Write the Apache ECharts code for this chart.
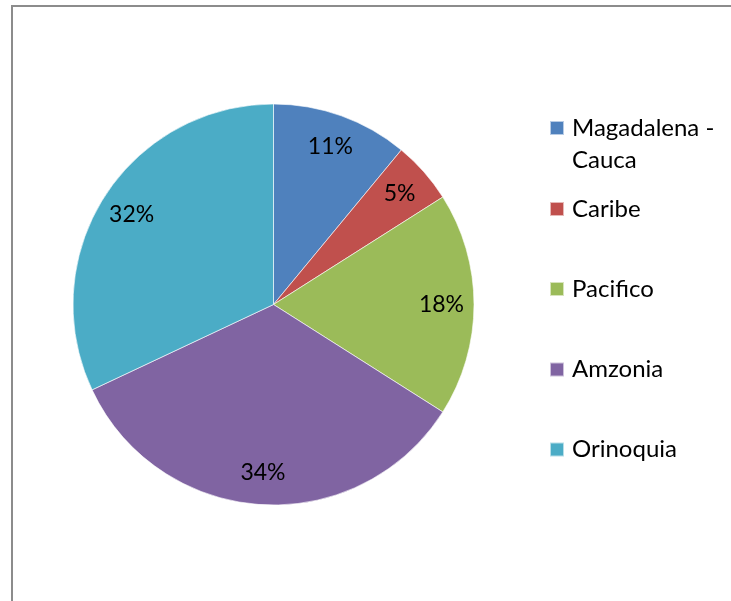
<!DOCTYPE html>
<html>
<head>
<meta charset="utf-8">
<script src="https://cdn.jsdelivr.net/npm/echarts@6/dist/echarts.min.js"></script>
<style>
  html, body { margin: 0; padding: 0; background: #fff; }
  #chart { width: 731px; height: 601px; }
</style>
</head>
<body>
<div id="chart"></div>
<script>
// regions and their share (percent)
var regions = ['Magadalena - Cauca', 'Caribe', 'Pacifico', 'Amzonia', 'Orinoquia']
var shares = [11, 5, 18, 34, 32]
var colors = ['#4F81BD', '#C0504D', '#9BBB59', '#8064A2', '#4BACC6']

var font = 'Lato, "Open Sans", sans-serif'
var pieData = regions.map(function (name, i) {
  return { name: name, value: shares[i], itemStyle: { color: colors[i] } }
})

// icon centres of the legend rows
var legendCenters = [128, 209, 289, 369.5, 449.5]
var legends = regions.map(function (name, i) {
  var wrap = name.indexOf(' - ') >= 0
  return {
    data: [name],
    orient: 'vertical',
    left: 549,
    top: legendCenters[i] - (wrap ? 48 : 16),
    padding: 0,
    itemWidth: 14,
    itemHeight: 14,
    icon: 'rect',
    selectedMode: false,
    // long name wraps after the dash; blank first line keeps the first row beside the icon
    formatter: function (n) { return wrap ? '\n' + n.replace(' - ', ' -\n') : n },
    textStyle: {
      fontFamily: font,
      fontSize: 24,
      color: '#000',
      lineHeight: 32,
      padding: [0, 0, 0, 3]
    }
  }
})

var chart = echarts.init(document.getElementById('chart'))
chart.setOption({
  animation: false,
  color: colors,
  legend: legends,
  // chart area frame, only top and left edges are inside the crop
  graphic: [{
    type: 'polyline',
    shape: { points: [[12, 700], [12, 6], [900, 6]] },
    style: { fill: 'none', stroke: '#8c8c8c', lineWidth: 2 },
    z: 0
  }],
  series: [{
    type: 'pie',
    center: [273.5, 304.5],
    radius: 200.5,
    startAngle: 90,
    clockwise: true,
    label: { show: false },
    labelLine: { show: false },
    itemStyle: { borderColor: 'rgba(255,255,255,0.6)', borderWidth: 1 },
    emphasis: { disabled: true },
    data: pieData
  }, {
    // transparent ring only used to place the percent labels further out
    type: 'pie',
    center: [273.5, 304.5],
    radius: [130, 200],
    startAngle: 90,
    clockwise: true,
    silent: true,
    itemStyle: { color: 'rgba(0,0,0,0)' },
    label: {
      show: true,
      position: 'inside',
      formatter: '{c}%',
      fontFamily: font,
      fontSize: 23,
      color: '#000'
    },
    labelLine: { show: false },
    emphasis: { disabled: true },
    data: regions.map(function (name, i) { return { name: name, value: shares[i] } })
  }]
})
</script>
</body>
</html>
